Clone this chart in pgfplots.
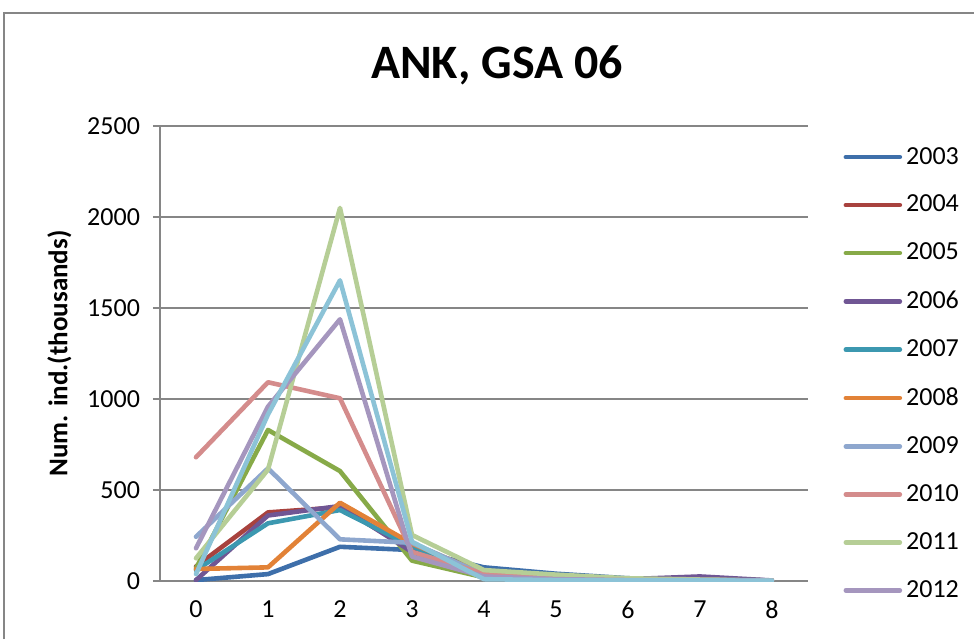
\documentclass[border=0pt]{standalone}
\usepackage{pgfplots}
\pgfplotsset{compat=1.18}
\usepackage{fontspec}
\setmainfont{Carlito}

\definecolor{cA}{RGB}{62,111,170}
\definecolor{cB}{RGB}{168,66,62}
\definecolor{cC}{RGB}{135,170,72}
\definecolor{cD}{RGB}{112,86,148}
\definecolor{cE}{RGB}{60,152,176}
\definecolor{cF}{RGB}{226,130,55}
\definecolor{cG}{RGB}{142,167,206}
\definecolor{cH}{RGB}{212,140,140}
\definecolor{cI}{RGB}{182,206,150}
\definecolor{cJ}{RGB}{165,150,190}
\definecolor{cK}{RGB}{140,195,215}
\definecolor{gridgray}{RGB}{134,134,134}

\begin{document}
\begin{tikzpicture}
\useasboundingbox (0,0) rectangle (487pt,319.5pt);
% outer chart frame (cut off at right and bottom)
\draw[gridgray, line width=0.8pt] (2pt,0) -- (2pt,313pt) -- (487pt,313pt);
\node[font=\fontsize{24}{24}\selectfont\bfseries] at (248.5pt,287pt) {ANK, GSA 06};

\begin{axis}[
    at={(80pt,29pt)}, anchor=south west,
    scale only axis,
    width=324pt, height=227.5pt,
    xmin=-0.5, xmax=8.5,
    ymin=0, ymax=2500,
    axis x line*=bottom, axis y line*=left,
    axis line style={gridgray, line width=0.8pt, -},
    xtick={0,1,...,8},
    minor xtick={-0.5,0.5,...,8.5},
    xtick style={draw=none},
    minor tick length=3.5pt,
    minor tick style={gridgray, line width=0.8pt},
    ytick={0,500,...,2500},
    ytick style={gridgray, line width=0.8pt},
    major tick length=3.5pt,
    tick align=outside,
    ymajorgrids,
    grid style={gridgray, line width=0.8pt},
    ticklabel style={font=\fontsize{13}{13}\selectfont},
    yticklabel style={xshift=-3pt},
    xticklabel style={yshift=-3pt},
    /pgf/number format/assume math mode=true,
    /pgf/number format/1000 sep={},
    ylabel={\bfseries Num. ind.(thousands)},
    ylabel style={font=\fontsize{13.5}{13.5}\selectfont, yshift=1pt},
    every axis plot/.append style={line width=2.3pt, line join=round, line cap=round, mark=none},
    legend cell align=left,
    legend style={at={(1.045,0.972)}, anchor=north west, draw=none, fill=none,
        font=\fontsize{13}{13}\selectfont, row sep=10.05pt},
    legend image code/.code={\draw[#1, line cap=round] (0pt,0pt) -- (27pt,0pt);},
]
\addplot[cA] coordinates {(0,5) (1,38) (2,188) (3,170) (4,75) (5,40) (6,15) (7,10) (8,3)};
\addlegendentry{2003}
\addplot[cB] coordinates {(0,80) (1,377) (2,405) (3,170) (4,35) (5,15) (6,8) (7,15) (8,2)};
\addlegendentry{2004}
\addplot[cC] coordinates {(0,70) (1,830) (2,604) (3,112) (4,20) (5,10) (6,5) (7,5) (8,2)};
\addlegendentry{2005}
\addplot[cD] coordinates {(0,5) (1,360) (2,412) (3,160) (4,30) (5,15) (6,10) (7,25) (8,3)};
\addlegendentry{2006}
\addplot[cE] coordinates {(0,60) (1,317) (2,390) (3,190) (4,30) (5,12) (6,5) (7,5) (8,2)};
\addlegendentry{2007}
\addplot[cF] coordinates {(0,66) (1,75) (2,430) (3,205) (4,40) (5,15) (6,5) (7,5) (8,2)};
\addlegendentry{2008}
\addplot[cG] coordinates {(0,243) (1,619) (2,229) (3,210) (4,35) (5,15) (6,5) (7,5) (8,2)};
\addlegendentry{2009}
\addplot[cH] coordinates {(0,680) (1,1092) (2,1004) (3,160) (4,40) (5,15) (6,5) (7,5) (8,2)};
\addlegendentry{2010}
\addplot[cI] coordinates {(0,125) (1,612) (2,2050) (3,253) (4,60) (5,35) (6,15) (7,8) (8,3)};
\addlegendentry{2011}
\addplot[cJ] coordinates {(0,180) (1,958) (2,1438) (3,134) (4,25) (5,10) (6,5) (7,5) (8,2)};
\addlegendentry{2012}
\addplot[cK, forget plot] coordinates {(0,38) (1,915) (2,1652) (3,216) (4,10) (5,5) (6,3) (7,3) (8,2)};
\end{axis}
\end{tikzpicture}
\end{document}
